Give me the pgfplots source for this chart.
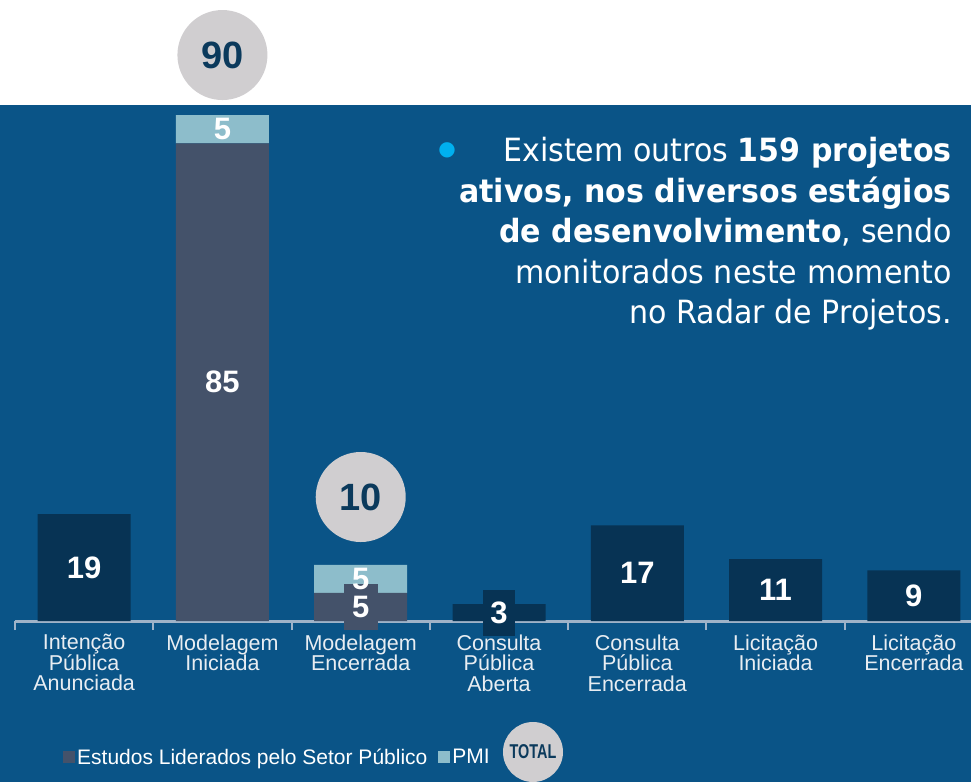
\documentclass[border=0pt]{standalone}
\usepackage{fontspec}
\setmainfont{Liberation Sans}
\newfontfamily\tahoma[FakeStretch=0.94]{DejaVu Sans}
\newfontfamily\narrow[FakeStretch=0.72]{Liberation Sans}
\newfontfamily\dejavu{DejaVu Sans}
\usepackage{pgfplots}
\pgfplotsset{compat=1.18}
\definecolor{bgblue}{HTML}{0A5487}
\definecolor{navy}{HTML}{073354}
\definecolor{slate}{HTML}{44526A}
\definecolor{pmi}{HTML}{8DBDCB}
\definecolor{circ}{HTML}{D0CED0}
\definecolor{dtext}{HTML}{0B3A5C}
\definecolor{axl}{HTML}{9FB3C8}
\definecolor{lbl}{HTML}{E8EDF2}
\definecolor{bullet}{HTML}{00B0F0}
\begin{document}
\begin{tikzpicture}[x=1pt,y=1pt]
\useasboundingbox (0,0) rectangle (971,782);
\clip (0,0) rectangle (971,782);
\fill[white] (0,0) rectangle (971,782);
\fill[bgblue] (0,0) rectangle (971,677);
\begin{axis}[
  at={(15pt,161pt)}, anchor=origin,
  scale only axis, width=968pt, height=516pt,
  xmin=0, xmax=7, ymin=0, ymax=91.81,
  clip=false,
  axis x line*=bottom, axis y line=none,
  x axis line style={axl, line width=3pt, -},
  ybar stacked, bar width=93pt,
  xtick={0.5,1.5,...,6.5},
  xticklabels={{Intenção\\Pública\\Anunciada},{Modelagem\\Iniciada},{Modelagem\\Encerrada},{Consulta\\Pública\\Aberta},{Consulta\\Pública\\Encerrada},{Licitação\\Iniciada},{Licitação\\Encerrada}},
  minor xtick={0,1,...,7},
  major tick length=0pt,
  minor tick length=9pt,
  tick align=outside,
  minor tick style={axl, line width=2pt},
  major tick style={draw=none},
  xticklabel style={font=\fontsize{21.5}{20.5}\selectfont, text=lbl, align=center, yshift=-10pt},
  legend style={at={(0.0465,-0.2636)}, anchor=west, draw=none, fill=none, text=white,
     font=\fontsize{21}{20}\selectfont, legend columns=2,
     /tikz/every even column/.append style={column sep=9pt}},
  legend image code/.code={\fill[#1] (-3pt,-6pt) rectangle (9pt,6pt);},
]
\addplot[fill=slate, draw=none] coordinates {(0.5,0) (1.5,85) (2.5,5) (3.5,0) (4.5,0) (5.5,0) (6.5,0)};
\addlegendentry{Estudos Liderados pelo Setor Público}
\addplot[fill=pmi, draw=none] coordinates {(0.5,0) (1.5,5) (2.5,5) (3.5,0) (4.5,0) (5.5,0) (6.5,0)};
\addlegendentry{PMI}
\addplot[fill=navy, draw=none] coordinates {(0.5,19) (1.5,0) (2.5,0) (3.5,3) (4.5,17) (5.5,11) (6.5,9)};
\coordinate (l19) at (axis cs:0.5,9.5);
\coordinate (l85) at (axis cs:1.5,42.5);
\coordinate (lp1) at (axis cs:1.5,87.5);
\coordinate (lp2) at (axis cs:2.5,7.5);
\coordinate (ls2) at (axis cs:2.5,2.5);
\coordinate (l3) at (axis cs:3.5,1.5);
\coordinate (l17) at (axis cs:4.5,8.5);
\coordinate (l11) at (axis cs:5.5,5.5);
\coordinate (l9) at (axis cs:6.5,4.5);
\coordinate (t90) at (axis cs:1.5,100.7);
\coordinate (t10) at (axis cs:2.5,22.06);
\end{axis}
\tikzset{lab/.style={text=white, font=\fontsize{31}{31}\selectfont\bfseries, inner sep=0pt},
  tot/.style={circle, fill=circ, minimum size=90pt, inner sep=0pt, text=dtext, font=\fontsize{38}{38}\selectfont\bfseries}}
\node[lab] at (l19) {19};
\node[lab] at (l85) {85};
\node[lab] at (lp1) {5};
\node[lab, fill=slate, minimum width=34pt, minimum height=46pt] at (ls2) {5};
\node[lab] at (lp2) {5};
\node[lab, fill=navy, minimum width=32pt, minimum height=46pt] at (l3) {3};
\node[lab] at (l17) {17};
\node[lab] at (l11) {11};
\node[lab] at (l9) {9};
\node[tot] at (t90) {90};
\node[tot] at (t10) {10};
\node[circle, fill=circ, minimum size=60pt, inner sep=0pt, text=dtext, font=\narrow\fontsize{20}{20}\selectfont\bfseries] at (533,30) {TOTAL};
\node[anchor=north east, align=right, text=white, inner sep=0pt, font=\tahoma\fontsize{32}{40.5}\selectfont] at (952,645)
  {Existem outros \textbf{159 projetos}\\
   \textbf{ativos, nos diversos estágios}\\
   \textbf{de desenvolvimento}, sendo\\
   monitorados neste momento\\
   no Radar de Projetos.};
\node[text=bullet, inner sep=0pt, font=\dejavu\fontsize{20}{20}\selectfont] at (447,632) {●};
\end{tikzpicture}
\end{document}
